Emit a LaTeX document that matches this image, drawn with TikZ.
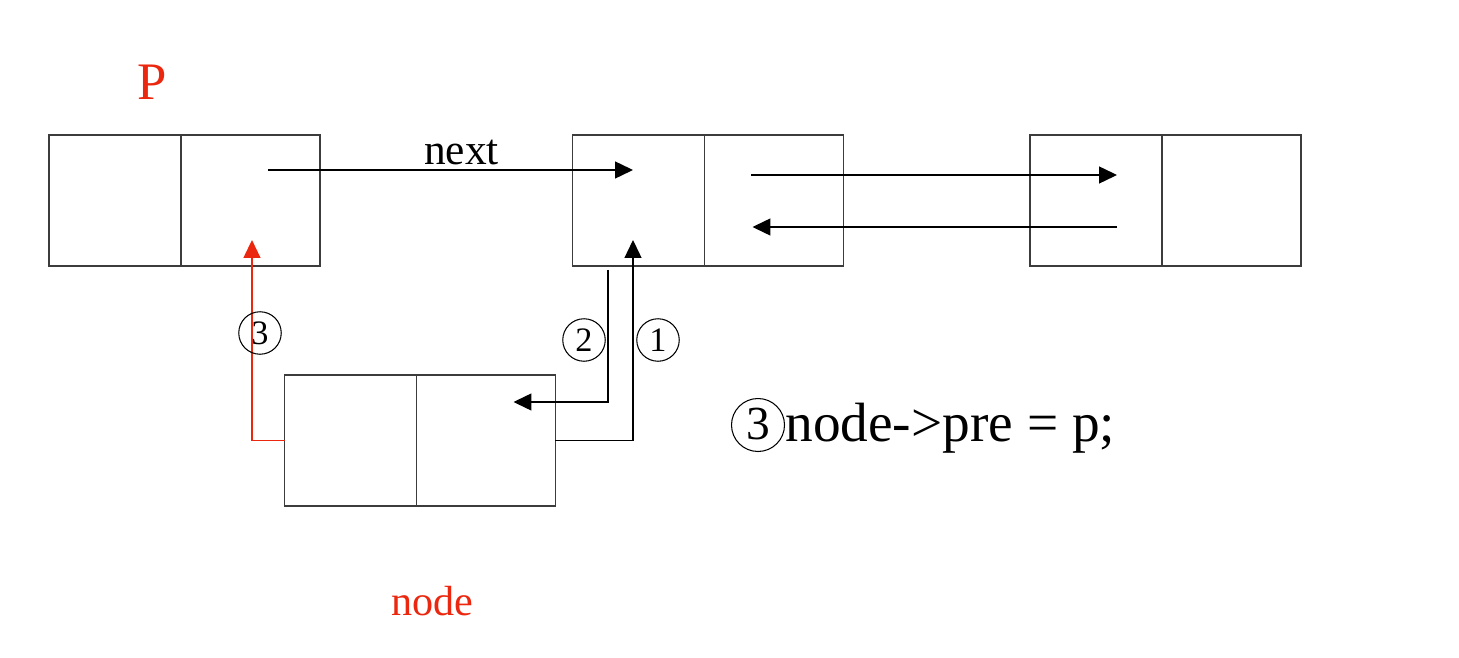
\documentclass[tikz,border=0pt]{standalone}
\usepackage{fontspec}
\setmainfont{Liberation Serif}
\usepackage{xcolor}
\usepackage{tikz}
\usetikzlibrary{arrows.meta,positioning,calc}
\definecolor{ptrred}{RGB}{235,40,15}
\definecolor{boxgray}{RGB}{60,60,60}
\tikzset{
  ll_lcell/.style={
    draw=boxgray, rectangle, line width=0.8pt, outer sep=0pt,
    minimum width=2.64cm, minimum height=2.62cm, inner sep=0pt
  },
  ll_rcell/.style={
    draw=boxgray, rectangle, line width=0.8pt, outer sep=0pt,
    minimum width=2.78cm, minimum height=2.62cm, inner sep=0pt
  },
  ll_arr/.style={-{Triangle[length=0.36cm,width=0.34cm]}, line width=0.8pt},
  ll_red/.style={-{Triangle[length=0.36cm,width=0.34cm]}, line width=0.8pt, color=ptrred},
  ll_num/.style={circle, draw, line width=0.6pt, minimum size=0.85cm, inner sep=0pt,
    font=\fontsize{19.5}{22}\selectfont},
  ll_tag/.style={text=ptrred, inner sep=0pt},
}

\begin{document}
\begin{tikzpicture}[x=0.02cm, y=-0.02cm]
\useasboundingbox (0,0) rectangle (1459,658);

% list nodes
\node[ll_lcell] (pL) at (115,200.5) {};
\node[ll_rcell, right=0pt of pL] (pR) {};
\node[ll_lcell] (mL) at (638.5,200.5) {};
\node[ll_rcell, right=0pt of mL] (mR) {};
\node[ll_lcell] (rL) at (1096,200.5) {};
\node[ll_rcell, right=0pt of rL] (rR) {};
\node[ll_lcell] (nL) at (350.5,440.5) {};
\node[ll_rcell, right=0pt of nL] (nR) {};

% labels
\node[ll_tag, font=\fontsize{30}{34}\selectfont] (ptag) at (152,82) {P};
\node[ll_tag, font=\fontsize{24}{28}\selectfont] (ntag) at (432,601) {node};
\node[ll_num, minimum size=1.06cm, font=\fontsize{27}{30}\selectfont] (codenum) at (758,425) {\raisebox{1pt}{3}};
\node[right=0pt of codenum, inner sep=0pt, font=\fontsize{31.5}{36}\selectfont, yshift=-2pt] (code)
     {node->pre = p;};

% existing links
\draw[ll_arr] ($(pR.center)+(17.5,-30.5)$) -- node[pos=0.53, above=-1pt, font=\fontsize{24.7}{28}\selectfont] {next}
     ($(mL.center)+(-5.5,-30.5)$);
\draw[ll_arr] ($(mR.center)+(-22.5,-25.5)$) -- ($(rL.center)+(21,-25.5)$);
\draw[ll_arr] ($(rL.center)+(21,26.5)$) -- ($(mR.center)+(-21.5,26.5)$);

% insertion steps
\draw[ll_arr] (nR.east) -| ($(mL.center)+(-5.5,39.5)$);
\draw[ll_arr] ($(mL.south)+(-30.5,4)$) |- ($(nR.center)+(27.5,-38.5)$);
\draw[ll_red] (nL.west) -| ($(pR.center)+(1.5,39.5)$);

\node[ll_num] (s1) at (658,340) {1};
\node[ll_num] (s2) at (584,340) {2};
\node[ll_num] (s3) at (260,333) {3};

\end{tikzpicture}
\end{document}
